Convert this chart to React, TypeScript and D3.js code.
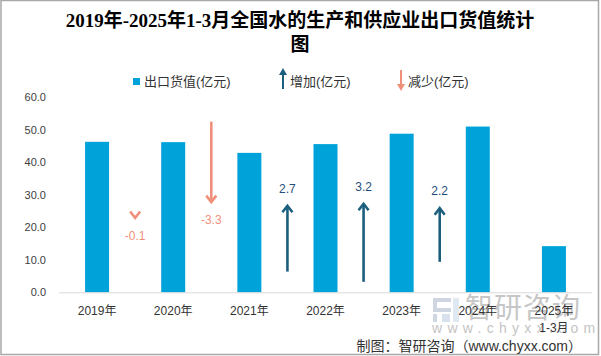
import React from "react";
import * as d3 from "d3";

const categories = ["2019年", "2020年", "2021年", "2022年", "2023年", "2024年", "2025年"];
const subLabels = ["", "", "", "", "", "", "1-3月"];
const exportValues = [46.3, 46.2, 42.9, 45.6, 48.8, 51.0, 14.2];
const changeValues = [-0.1, -3.3, 2.7, 3.2, 2.2];
const changeLabels = ["-0.1", "-3.3", "2.7", "3.2", "2.2"];
// tail level of each change arrow on the hidden secondary axis (-4..4)
const arrowTails = [-0.85, 3.0, -3.15, -3.57, -2.75];
const yTicks = [0, 10, 20, 30, 40, 50, 60];

const W = 601;
const H = 356;
const M = { left: 59, right: 592, top: 97.3, bottom: 292.3 };

const BAR = "#00A2DA";
const UP = "#1B5E7E";
const DOWN = "#F0907A";
const UPTXT = "#1F4E79";
const CJK = "'Liberation Sans', Arial, 'Noto Sans CJK SC', sans-serif";

export default function App() {
  const x = d3.scaleBand<string>().domain(categories).range([M.left, M.right]).padding(0);
  const y = d3.scaleLinear().domain([0, 60]).range([M.bottom, M.top]);
  const y2 = d3.scaleLinear().domain([-4, 4]).range([M.bottom, M.top]);
  const bw = x.bandwidth() * 0.315;

  const arrowHead = (tx: number, ty: number, dir: number, color: string, key: string) => (
    <path
      key={key}
      d={`M${tx - 5},${ty + dir * 6.5} L${tx},${ty} L${tx + 5},${ty + dir * 6.5}`}
      fill="none"
      stroke={color}
      strokeWidth={2.6}
      strokeLinejoin="miter"
    />
  );

  return (
    <svg width={W} height={H} style={{ position: "absolute", left: 0, top: 0 }}>
      <rect x={0} y={0} width={W} height={H} fill="#fff" />
      <rect x={1} y={0.5} width={597.5} height={354} fill="none" stroke="#a8a8a8" strokeWidth={1.5} />

      {/* title */}
      <text
        x={300}
        y={27}
        textAnchor="middle"
        fontFamily="'Liberation Serif', 'Times New Roman', 'Noto Sans CJK SC', serif"
        fontWeight="bold"
        fontSize={19}
        fill="#000"
      >
        2019年-2025年1-3月全国水的生产和供应业出口货值统计
      </text>
      <text
        x={300}
        y={51}
        textAnchor="middle"
        fontFamily="'Liberation Serif', 'Times New Roman', 'Noto Sans CJK SC', serif"
        fontWeight="bold"
        fontSize={19}
        fill="#000"
      >
        图
      </text>

      {/* legend */}
      <rect x={133} y={78} width={7} height={7} fill={BAR} />
      <text x={144} y={86} fontFamily={CJK} fontSize={13} fill="#333">出口货值(亿元)</text>
      <line x1={283} y1={70} x2={283} y2={89} stroke={UP} strokeWidth={2} />
      <path d="M279,75 L283,68 L287,75 Z" fill={UP} />
      <text x={290} y={86} fontFamily={CJK} fontSize={13} fill="#333">增加(亿元)</text>
      <line x1={401} y1={70} x2={401} y2={89} stroke={DOWN} strokeWidth={2} />
      <path d="M397,84 L401,91 L405,84 Z" fill={DOWN} />
      <text x={408} y={86} fontFamily={CJK} fontSize={13} fill="#333">减少(亿元)</text>

      {/* y axis labels */}
      {yTicks.map((t) => (
        <text key={t} x={46} y={y(t) + 4} textAnchor="end" fontFamily={CJK} fontSize={11} fill="#404040">
          {t.toFixed(1)}
        </text>
      ))}

      {/* watermark */}
      <g opacity={0.55}>
        <path d="M433,298 h18 v4 h-14 v6 h14 v4 h-18 Z" fill="#a9b6cb" />
        <path d="M433,314 h4 v8 h-4 Z" fill="#a9b6cb" />
        <path d="M442,314 h8 v8 h-8 Z" fill="#b9c8dc" />
        <path d="M453,298 h6 v24 h-6 Z" fill="#c8d6e8" />
      </g>
      <text x={465} y={318} fontFamily="'Noto Sans CJK SC', sans-serif" fontSize={28} fill="#b4b4b4" opacity={0.75} letterSpacing={1}>
        智研咨询
      </text>
      <text x={432} y={333} fontFamily="'Liberation Sans', Arial, sans-serif" fontSize={14} fill="#c4c4c4" letterSpacing={5.3}>
        www.chyxx.com
      </text>

      {/* bars */}
      {categories.map((c, i) => (
        <rect
          key={c}
          x={(x(c) as number) + x.bandwidth() / 2 - bw / 2}
          y={y(exportValues[i])}
          width={bw}
          height={y(0) - y(exportValues[i])}
          fill={BAR}
        />
      ))}

      {/* axis line */}
      <line x1={M.left} x2={M.right} y1={y(0) + 0.5} y2={y(0) + 0.5} stroke="#d9d9d9" strokeWidth={1} />

      {/* change arrows */}
      {changeValues.map((v, i) => {
        const ax = (x(categories[i]) as number) + x.bandwidth();
        const tail = y2(arrowTails[i]);
        const tip = y2(arrowTails[i] + v);
        const up = v > 0;
        const color = up ? UP : DOWN;
        return (
          <g key={i}>
            <line x1={ax} x2={ax} y1={tail} y2={up ? tip + 1 : tip - 1} stroke={color} strokeWidth={2.6} />
            {arrowHead(ax, tip, up ? 1 : -1, color, "h" + i)}
            <text
              x={ax}
              y={up ? tip - 17.5 + 4.5 : tip + 17.5 + 4.5}
              textAnchor="middle"
              fontFamily={CJK}
              fontSize={12}
              fill={up ? UPTXT : DOWN}
            >
              {changeLabels[i]}
            </text>
          </g>
        );
      })}

      {/* x labels */}
      {categories.map((c, i) => (
        <g key={c}>
          <text
            x={(x(c) as number) + x.bandwidth() / 2}
            y={315}
            textAnchor="middle"
            fontFamily={CJK}
            fontSize={12}
            fill="#333"
          >
            {c}
          </text>
          {subLabels[i] && (
            <text
              x={(x(c) as number) + x.bandwidth() / 2}
              y={332}
              textAnchor="middle"
              fontFamily={CJK}
              fontSize={12}
              fill="#333"
            >
              {subLabels[i]}
            </text>
          )}
        </g>
      ))}

      {/* footer */}
      <text x={582} y={351} textAnchor="end" fontFamily={CJK} fontSize={14} fill="#333">
        制图：智研咨询（www.chyxx.com）
      </text>
    </svg>
  );
}
